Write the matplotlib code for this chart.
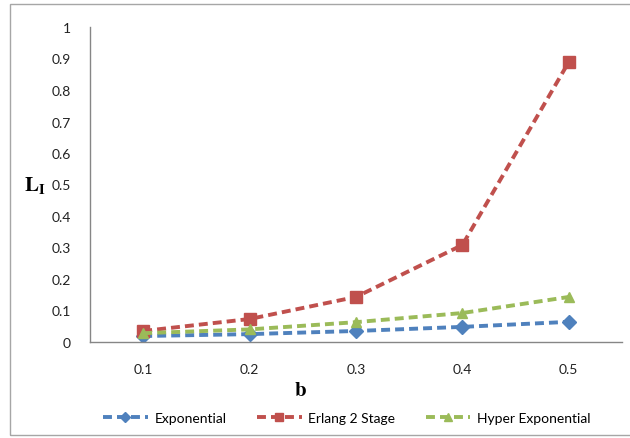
import matplotlib
matplotlib.use("Agg")
import matplotlib.pyplot as plt
from matplotlib.patches import Rectangle

# data
b_values = ["0.1", "0.2", "0.3", "0.4", "0.5"]
exponential = [0.019, 0.025, 0.035, 0.048, 0.064]
erlang2 = [0.035, 0.073, 0.143, 0.308, 0.889]
hyper_exp = [0.028, 0.040, 0.063, 0.092, 0.143]
y_ticks = [0, 0.1, 0.2, 0.3, 0.4, 0.5, 0.6, 0.7, 0.8, 0.9, 1]
y_tick_labels = ["0", "0.1", "0.2", "0.3", "0.4", "0.5", "0.6", "0.7", "0.8", "0.9", "1"]

plt.rcParams["font.family"] = ["Lato", "DejaVu Sans"]
plt.rcParams["mathtext.fontset"] = "stix"

W, H = 630, 439
fig = plt.figure(figsize=(W / 100, H / 100), dpi=100)

# outer chart frame
fig.patches.append(Rectangle((10 / W, 1 - 436 / H), 640 / W, 431 / H,
                             transform=fig.transFigure, fill=False,
                             edgecolor="#a6a6a6", linewidth=1.0))

ax = fig.add_axes([90 / W, 1 - 343 / H, (622 - 90) / W, (343 - 28) / H])

x = list(range(len(b_values)))
series = [
    (exponential, "Exponential", "#4F81BD", "D", 7),
    (erlang2, "Erlang 2 Stage", "#C0504D", "s", 8),
    (hyper_exp, "Hyper Exponential", "#9BBB59", "^", 7.5),
]
for vals, name, color, marker, ms in series:
    ax.plot(x, vals, color=color, linewidth=2.8, dashes=(2.3, 1.3),
            marker=marker, markersize=ms, markeredgecolor=color,
            markerfacecolor=color, label=name)

ax.set_xlim(-0.5, len(b_values) - 0.5)
ax.set_ylim(0, 1)
ax.set_xticks(x)
ax.set_xticklabels(b_values)
ax.set_yticks(y_ticks)
ax.set_yticklabels(y_tick_labels)
ax.tick_params(axis="both", length=0, labelsize=10, colors="#222222")
ax.tick_params(axis="y", pad=14)
ax.tick_params(axis="x", pad=15)

for side in ("top", "right"):
    ax.spines[side].set_visible(False)
for side in ("left", "bottom"):
    ax.spines[side].set_color("#868686")
    ax.spines[side].set_linewidth(1.0)

fig.text(35 / W, 1 - 186 / H, r"$\mathbf{L_I}$", fontsize=15,
         ha="center", va="center")
fig.text(300 / W, 1 - 390 / H, r"$\mathbf{b}$", fontsize=15,
         ha="center", va="center")

fig.legend(loc="center", bbox_to_anchor=(347 / W, 1 - 419 / H), ncol=3,
           frameon=False, fontsize=10, handlelength=3.2, columnspacing=2.2,
           handletextpad=0.5, markerscale=0.8)

fig.savefig("out.png", dpi=100)
